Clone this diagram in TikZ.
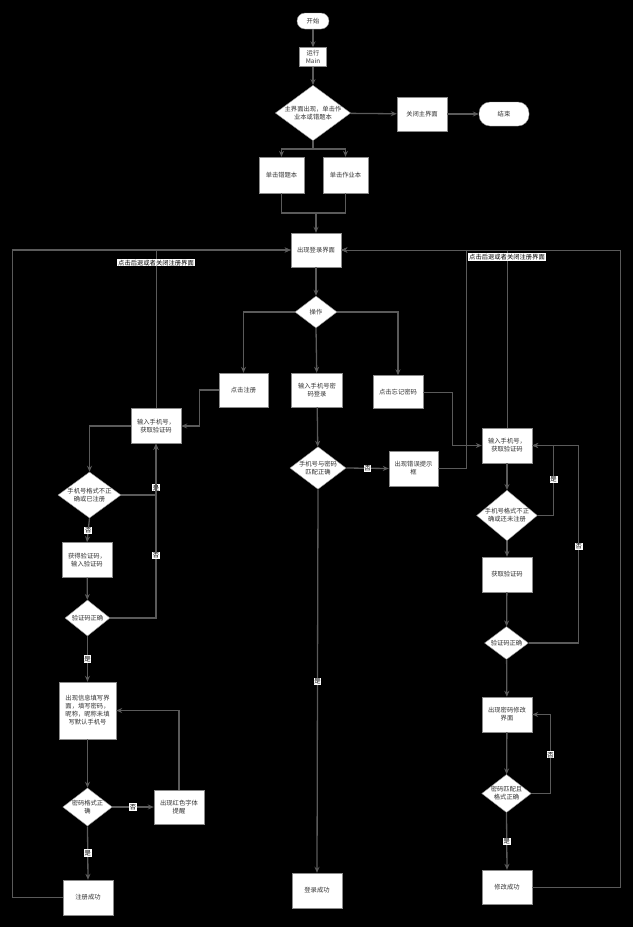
\documentclass[tikz,border=0pt]{standalone}
\usepackage{fontspec}
\newfontfamily\cjk{Noto Sans CJK SC}
\usetikzlibrary{shapes.geometric,arrows.meta}
\definecolor{ln}{HTML}{5A5A5A}
\definecolor{tx}{HTML}{333333}
\begin{document}
\begin{tikzpicture}[x=1pt,y=-1pt,
  every node/.style={font=\cjk\fontsize{6.3}{8}\selectfont},
  box/.style={draw=ln!70, fill=white, text=tx, align=center, inner sep=1pt, minimum width=50, minimum height=35},
  term/.style={draw=ln!70, fill=white, text=tx, align=center, rounded corners=8pt, inner sep=1pt},
  dia/.style={diamond, draw=ln!70, fill=white, text=tx, align=center, inner sep=0pt},
  arr/.style={draw=ln, line width=1.3pt, -{Stealth[length=6pt,width=5pt]}},
  thinarr/.style={draw=ln, line width=0.9pt, -{Stealth[length=6pt,width=5pt]}},
  ln/.style={draw=ln, line width=1.3pt},
  lbl/.style={fill=white, text=black, inner sep=0.8pt, font=\cjk\fontsize{6.3}{7}\selectfont}
]
\fill[black] (0,0) rectangle (633,927);
\useasboundingbox (0,0) rectangle (633,927);

% top
\node[term, minimum width=32, minimum height=16] (start) at (313,21) {开始};
\node[box, minimum width=27, minimum height=19] (run) at (313,57) {运行\\Main};
\node[dia, minimum width=72, minimum height=53, aspect=1.36] (d1) at (313,113) {主界面出现，单击作\\业本或错题本};
\node[box, minimum height=34] (close) at (422,114) {关闭主界面};
\node[term, minimum width=50, minimum height=24, rounded corners=11pt] (end) at (504,114) {结束};
\node[box, minimum width=45, minimum height=36] (bk1) at (281.5,175) {单击错题本};
\node[box, minimum width=45, minimum height=36] (bk2) at (345.5,175) {单击作业本};
\coordinate (j1) at (313,149);
\coordinate (j2) at (316,213);

\node[box, minimum height=34] (login) at (316,250) {出现登录界面};
\node[dia, minimum width=42, minimum height=32, aspect=1.3] (op) at (316,312) {操作};
\node[box, minimum width=49, minimum height=34] (reg) at (243.5,390) {点击注册};
\node[box, minimum width=51, minimum height=34] (pwdlogin) at (317,390) {输入手机号密\\码登录};
\node[box, minimum width=50, minimum height=33] (forgot) at (398,392) {点击忘记密码};

% left column
\node[box] (inL) at (156,426) {输入手机号，\\获取验证码};
\node[dia, minimum width=55, minimum height=40, aspect=1.37] (dL1) at (89.5,495) {手机号格式不正\\确或已注册};
\node[box] (gL) at (87,560) {获得验证码，\\输入验证码};
\node[dia, minimum width=45, minimum height=36, aspect=1.25] (vL) at (87.5,618) {验证码正确};
\node[box, minimum width=57, minimum height=57] (info) at (87.5,710.5) {出现信息填写界\\面，填写密码，\\昵称，昵称未填\\写默认手机号};
\node[dia, minimum width=44, minimum height=34, aspect=1.3] (pfmt) at (87.5,807) {密码格式正\\确};
\node[box, minimum height=34] (red) at (179,807) {出现红色字体\\提醒};
\node[box] (regok) at (88,897.5) {注册成功};

% middle column
\node[dia, minimum width=54, minimum height=41, aspect=1.32] (dM) at (318,468) {手机号与密码\\匹配正确};
\node[box, minimum width=49] (err) at (413.5,468.5) {出现错误提示\\框};
\node[box] (ok) at (317,890.5) {登录成功};

% right column
\node[box] (inR) at (507,445.5) {输入手机号，\\获取验证码};
\node[dia, minimum width=54, minimum height=45, aspect=1.2] (dR1) at (507,515.5) {手机号格式不正\\确或还未注册};
\node[box] (getR) at (507,574.5) {获取验证码};
\node[dia, minimum width=44, minimum height=33, aspect=1.33] (vR) at (506.5,643) {验证码正确};
\node[box] (chg) at (507,714.5) {出现密码修改\\界面};
\node[dia, minimum width=44, minimum height=34, aspect=1.3] (pm) at (506.5,793.5) {密码匹配且\\格式正确};
\node[box, minimum height=34] (done) at (507,887) {修改成功};

% connectors top
\draw[arr] (start) -- (run);
\draw[arr] (run) -- (d1);
\draw[arr] (d1) -- (close);
\draw[arr] (close) -- (end);
\draw[ln] (d1.south) -- (j1);
\draw[arr] (j1) -| (bk1);
\draw[arr] (j1) -| (bk2);
\draw[ln] (bk1.south) |- (j2);
\draw[ln] (bk2.south) |- (j2);
\draw[arr] (j2) -- (login);
\draw[arr] (login) -- (op);
\draw[arr] (op.west) -| (reg);
\draw[arr] (op.east) -| (forgot);
\draw[arr] (op.south) -- (pwdlogin);

% left connectors
\draw[arr] (reg.west) -- ++(-19,0) |- (inL.east);
\draw[arr] (inL.west) -| (dL1.north);
\draw[arr] (dL1.east) -| node[lbl, pos=0.57]{是} (inL.south);
\draw[arr] (dL1.south) -- node[lbl]{否} (gL.north);
\draw[arr] (gL) -- (vL);
\draw[arr] (vL.east) -| node[lbl, pos=0.68]{否} (inL.south);
\draw[arr] (vL.south) -- node[lbl]{是} (info.north);
\draw[arr] (info) -- (pfmt);
\draw[arr] (pfmt.east) -- node[lbl]{否} (red.west);
\draw[arr] (red.north) |- (info.east);
\draw[arr] (pfmt.south) -- node[lbl]{是} (regok.north);
\draw[arr] (regok.west) -- ++(-50,0) |- (login.west);
\draw[thinarr] (inL.north) |- node[lbl, pos=0.46]{点击后退或者关闭注册界面} (login.west);

% middle connectors
\draw[arr] (pwdlogin) -- (dM);
\draw[arr] (dM.east) -- node[lbl]{否} (err.west);
\draw[thinarr] (err.east) -- ++(28,0) |- (login.east);
\draw[arr] (dM.south) -- node[lbl]{是} (ok.north);

% right connectors
\draw[thinarr] (forgot.east) -- ++(29,0) |- (inR.west);
\draw[thinarr] (inR.north) |- node[lbl, pos=0.48]{点击后退或者关闭注册界面} (login.east);
\draw[arr] (inR) -- (dR1);
\draw[arr] (dR1.east) -- ++(16,0) |- node[lbl, pos=0.26]{是} (inR.east);
\draw[arr] (dR1) -- (getR);
\draw[arr] (getR) -- (vR);
\draw[arr] (vR.east) -- ++(50,0) |- node[lbl, pos=0.245]{否} (inR.east);
\draw[arr] (vR) -- (chg);
\draw[arr] (chg) -- (pm);
\draw[arr] (pm.east) -- ++(19,0) |- node[lbl, pos=0.245]{否} (chg.east);
\draw[arr] (pm.south) -- node[lbl]{是} (done.north);
\draw[thinarr] (done.east) -- ++(88,0) |- (login.east);
\end{tikzpicture}
\end{document}
